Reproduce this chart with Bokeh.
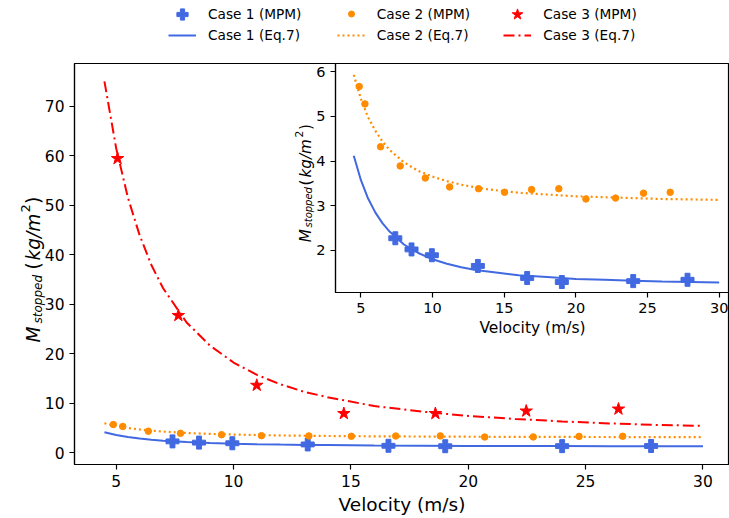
import math
from bokeh.plotting import figure
from bokeh.models import Range1d, SingleIntervalTicker, Legend, LegendItem, Label, GridBox
from bokeh.embed import file_html
from bokeh.resources import INLINE

# ---------------- data ----------------
# MPM results
v_case1 = [7.40, 8.53, 9.95, 13.16, 16.60, 19.02, 24.00, 27.79]
m_case1 = [2.27, 2.02, 1.89, 1.65, 1.38, 1.29, 1.31, 1.34]
v_case2 = [4.88, 5.28, 6.37, 7.74, 9.49, 11.19, 13.21, 15.02, 16.91, 18.81, 20.70, 22.77, 24.72, 26.58]
m_case2 = [5.67, 5.28, 4.32, 3.89, 3.62, 3.42, 3.38, 3.30, 3.36, 3.38, 3.15, 3.17, 3.28, 3.30]
v_case3 = [5.06, 7.65, 10.99, 14.70, 18.60, 22.47, 26.40]
m_case3 = [59.4, 27.7, 13.6, 7.9, 7.9, 8.4, 8.8]

# Eq.7 curves
v_eq = [4.5, 5, 5.5, 6, 6.5, 7, 8, 9, 10, 11, 12, 13, 14, 16, 18, 20, 22, 24, 26, 28, 30]
eq_case1 = [4.12, 3.57, 3.16, 2.85, 2.61, 2.42, 2.13, 1.94, 1.80, 1.70, 1.62, 1.56, 1.52,
            1.44, 1.40, 1.36, 1.34, 1.32, 1.30, 1.29, 1.28]
eq_case2 = [5.93, 5.39, 4.98, 4.68, 4.44, 4.25, 3.97, 3.78, 3.65, 3.55, 3.47, 3.41, 3.36,
            3.29, 3.25, 3.21, 3.19, 3.17, 3.15, 3.14, 3.13]
eq_case3 = [75.0, 61.5, 51.5, 43.9, 37.9, 33.2, 26.3, 21.6, 18.2, 15.7, 13.8, 12.3, 11.2,
            9.4, 8.3, 7.4, 6.8, 6.3, 5.9, 5.6, 5.4]

labels_mpm = ["Case 1 (MPM)", "Case 2 (MPM)", "Case 3 (MPM)"]
labels_eq = ["Case 1 (Eq.7)", "Case 2 (Eq.7)", "Case 3 (Eq.7)"]
x_title = "Velocity (m/s)"

BLUE = "#4169E1"
ORANGE = "#FF8C00"
RED = "#FF0000"
FONT = "DejaVu Sans"
W, H = 729, 518

# main frame geometry (pixels)
M_LEFT, M_RIGHT, M_TOP, M_BOTTOM = 74, 729, 63, 464
MX0, MX1, MY0, MY1 = 3.225, 31.13, -2.4, 78.6
# inset geometry (figure placed at 280, 58)
I_X, I_Y, I_H = 280, 58, 284
I_LEFT, I_RIGHT, I_TOP, I_BOTTOM = 335, 729, 63, 292
IX0, IX1, IY0, IY1 = 3.225, 30.72, 1.055, 6.185


def style_axes(p, tick_size, label_size, xlabel_standoff):
    p.grid.visible = False
    p.outline_line_color = "black"
    p.outline_line_width = 1.2
    p.outline_line_alpha = 1.0
    for ax in (p.xaxis, p.yaxis):
        ax.axis_line_color = "black"
        ax.axis_line_width = 1.2
        ax.major_tick_line_color = "black"
        ax.major_tick_line_width = 1.2
        ax.major_tick_out = 5
        ax.major_tick_in = 0
        ax.minor_tick_line_color = None
        ax.major_label_text_font = FONT
        ax.major_label_text_font_size = tick_size
        ax.major_label_text_color = "black"
        ax.major_label_standoff = 5
    p.xaxis.axis_label = x_title
    p.xaxis.axis_label_text_font = FONT
    p.xaxis.axis_label_text_font_size = label_size
    p.xaxis.axis_label_text_font_style = "normal"
    p.xaxis.axis_label_text_color = "black"
    p.xaxis.axis_label_standoff = xlabel_standoff


# ---------------- main plot ----------------
p = figure(width=W, height=H, output_backend="svg", toolbar_location=None,
           x_range=Range1d(MX0, MX1), y_range=Range1d(MY0, MY1),
           min_border_left=M_LEFT, min_border_right=W - M_RIGHT,
           min_border_top=M_TOP, min_border_bottom=H - M_BOTTOM,
           background_fill_color="white", border_fill_color="white")
p.frame_align = False
style_axes(p, "15.5px", "18.5px", 4)
p.xaxis.ticker = SingleIntervalTicker(interval=5)
p.yaxis.ticker = SingleIntervalTicker(interval=10)

p.line(v_eq, eq_case1, line_color=BLUE, line_width=2)
p.line(v_eq, eq_case2, line_color=ORANGE, line_width=2.2, line_dash="2 3")
p.line(v_eq, eq_case3, line_color=RED, line_width=2, line_dash="11 4 2 4")
p.scatter(v_case1, m_case1, marker="plus", size=13, color=BLUE)
p.scatter(v_case2, m_case2, marker="circle", size=6.5, color=ORANGE)
p.scatter(v_case3, m_case3, marker="star", size=13, color=RED)

# ---------------- inset ----------------
q = figure(width=W - I_X, height=I_H, output_backend="svg", toolbar_location=None,
           x_range=Range1d(IX0, IX1), y_range=Range1d(IY0, IY1),
           min_border_left=I_LEFT - I_X, min_border_right=W - I_RIGHT,
           min_border_top=I_TOP - I_Y, min_border_bottom=I_H - (I_BOTTOM - I_Y),
           background_fill_color="white", border_fill_alpha=0)
q.frame_align = False
style_axes(q, "14.5px", "15.5px", 3)
q.xaxis.ticker = SingleIntervalTicker(interval=5)
q.yaxis.ticker = SingleIntervalTicker(interval=1)

q.line(v_eq, eq_case1, line_color=BLUE, line_width=2)
q.line(v_eq, eq_case2, line_color=ORANGE, line_width=2.2, line_dash="2 3")
q.scatter(v_case1, m_case1, marker="plus", size=13, color=BLUE)
q.scatter(v_case2, m_case2, marker="circle", size=6.5, color=ORANGE)
q.margin = (I_Y, 0, 0, I_X)

# ---------------- transparent overlay for legend and y-axis titles ----------------
ov = figure(width=W, height=H, output_backend="svg", toolbar_location=None,
            x_range=Range1d(0, W), y_range=Range1d(0, H),
            x_axis_location=None, y_axis_location=None,
            min_border_left=0, min_border_right=0, min_border_top=0, min_border_bottom=0,
            outline_line_color=None, background_fill_alpha=0, border_fill_alpha=0)
ov.frame_align = False
ov.grid.visible = False

# legend proxies: hidden copies of the series, used only for the legend swatches
g1 = ov.scatter(v_case1, m_case1, marker="plus", size=13, color=BLUE, visible=False)
g2 = ov.scatter(v_case2, m_case2, marker="circle", size=6.5, color=ORANGE, visible=False)
g3 = ov.scatter(v_case3, m_case3, marker="star", size=13, color=RED, visible=False)
h1 = ov.line(v_eq, eq_case1, line_color=BLUE, line_width=2, visible=False)
h2 = ov.line(v_eq, eq_case2, line_color=ORANGE, line_width=2.2, line_dash="2 3", visible=False)
h3 = ov.line(v_eq, eq_case3, line_color=RED, line_width=2, line_dash="11 4 2 4", visible=False)

col_x = [168, 336.7, 503.3]
row_y = [14, 34.5]
entries = [(labels_mpm[0], g1, 0, 0, 30), (labels_mpm[1], g2, 1, 0, 15), (labels_mpm[2], g3, 2, 0, 30),
           (labels_eq[0], h1, 0, 1, 20), (labels_eq[1], h2, 1, 1, 20), (labels_eq[2], h3, 2, 1, 20)]
for lab, rend, c, r, gh in entries:
    ov.add_layout(Legend(items=[LegendItem(label=lab, renderers=[rend])],
                         location=(col_x[c], H - (row_y[r] + gh / 2)),
                         orientation="horizontal", glyph_width=28, glyph_height=gh,
                         label_height=gh, label_standoff=12, padding=0, margin=0, spacing=0,
                         label_text_font=FONT, label_text_font_size="13.7px",
                         label_text_color="black", border_line_alpha=0,
                         background_fill_alpha=0, inactive_fill_alpha=0,
                         click_policy="none"))


def add_ylabel(fig, bx, parts):
    # parts: (text, canvas y where the text starts, baseline shift, font size, style)
    for txt, py, shift, size, style in parts:
        fig.add_layout(Label(x=bx + shift, y=H - py, x_units="screen", y_units="screen",
                             text=txt, angle=math.pi / 2, text_align="left",
                             text_baseline="alphabetic", text_font=FONT, text_font_size=size,
                             text_font_style=style, text_color="black"))


add_ylabel(ov, 33, [("M", 342, 0, "18.6px", "italic"),
                    ("stopped", 323, 4, "12px", "italic"),
                    ("(", 269, 0, "18.6px", "normal"),
                    ("kg/m", 260, 0, "18.6px", "italic"),
                    ("2", 212, -8, "13px", "normal"),
                    (")", 203.5, 0, "18.6px", "normal")])
add_ylabel(ov, 305, [("M", 241.7, 0, "15.2px", "italic"),
                     ("stopped", 227, 3.3, "10px", "italic"),
                     ("(", 185, 0, "15.2px", "normal"),
                     ("kg/m", 177, 0, "15.2px", "italic"),
                     ("2", 137, -6.5, "10.6px", "normal"),
                     (")", 129.5, 0, "15.2px", "normal")])

root = GridBox(children=[(p, 0, 0), (q, 0, 0), (ov, 0, 0)])
open("out.html", "w").write(file_html(root, INLINE))
